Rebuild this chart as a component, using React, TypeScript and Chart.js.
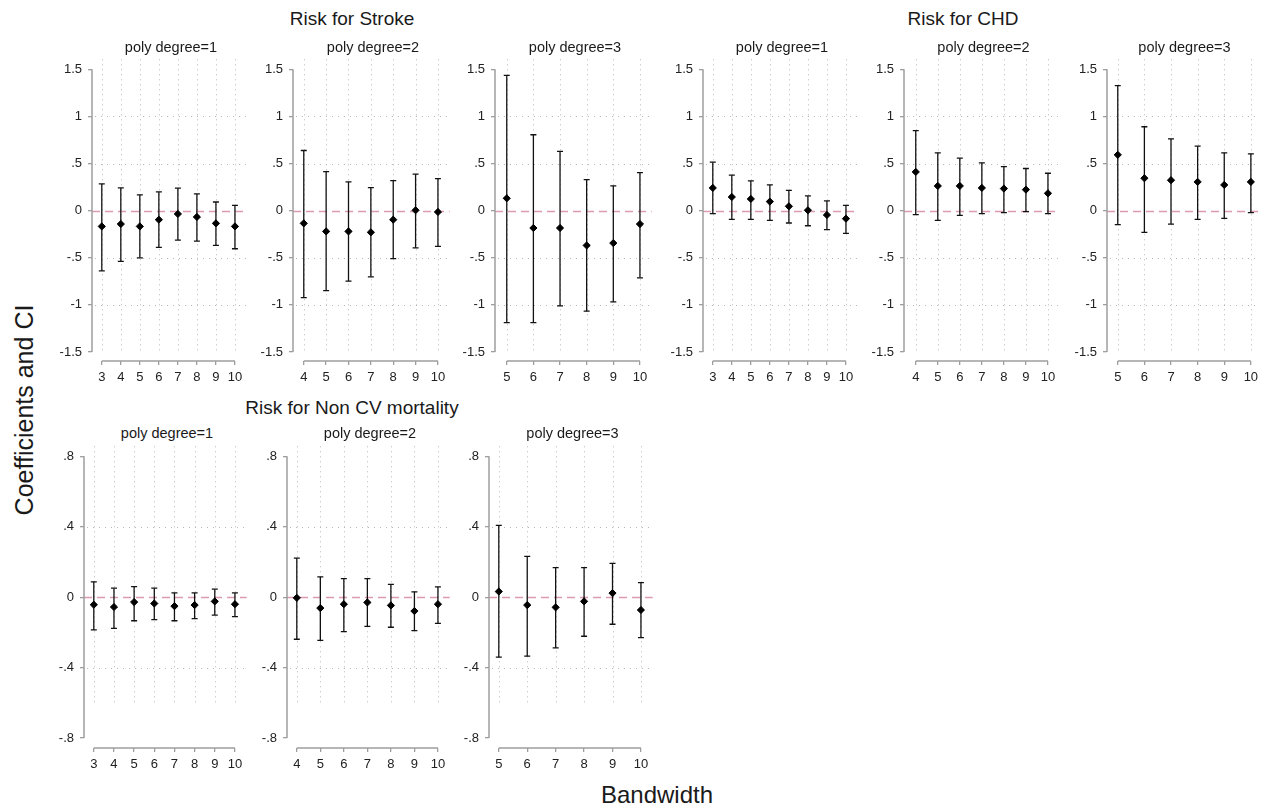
import React, { useEffect, useRef } from "react";
import { Chart, registerables } from "chart.js";

Chart.register(...registerables);

// Bandwidths used for each polynomial degree
const bwDeg1 = [3, 4, 5, 6, 7, 8, 9, 10];
const bwDeg2 = [4, 5, 6, 7, 8, 9, 10];
const bwDeg3 = [5, 6, 7, 8, 9, 10];

// Risk for Stroke
const strokeD1Est = [-0.167, -0.142, -0.167, -0.096, -0.035, -0.067, -0.135, -0.167];
const strokeD1Lo = [-0.638, -0.539, -0.5, -0.39, -0.312, -0.323, -0.369, -0.404];
const strokeD1Hi = [0.284, 0.241, 0.167, 0.199, 0.238, 0.177, 0.092, 0.057];

const strokeD2Est = [-0.135, -0.22, -0.22, -0.23, -0.096, 0.004, -0.014];
const strokeD2Lo = [-0.922, -0.848, -0.748, -0.702, -0.51, -0.394, -0.38];
const strokeD2Hi = [0.638, 0.415, 0.305, 0.245, 0.319, 0.387, 0.34];

const strokeD3Est = [0.131, -0.184, -0.184, -0.369, -0.344, -0.142];
const strokeD3Lo = [-1.188, -1.188, -1.011, -1.067, -0.968, -0.713];
const strokeD3Hi = [1.436, 0.805, 0.628, 0.33, 0.262, 0.404];

// Risk for CHD
const chdD1Est = [0.241, 0.145, 0.124, 0.096, 0.046, 0.004, -0.046, -0.085];
const chdD1Lo = [-0.032, -0.092, -0.092, -0.103, -0.131, -0.16, -0.202, -0.241];
const chdD1Hi = [0.514, 0.376, 0.316, 0.273, 0.216, 0.156, 0.103, 0.057];

const chdD2Est = [0.411, 0.262, 0.262, 0.241, 0.234, 0.223, 0.184];
const chdD2Lo = [-0.043, -0.103, -0.05, -0.032, -0.021, -0.011, -0.032];
const chdD2Hi = [0.848, 0.613, 0.557, 0.507, 0.468, 0.447, 0.397];

const chdD3Est = [0.592, 0.344, 0.323, 0.305, 0.273, 0.305];
const chdD3Lo = [-0.149, -0.23, -0.142, -0.092, -0.082, -0.021];
const chdD3Hi = [1.326, 0.89, 0.762, 0.684, 0.613, 0.603];

// Risk for Non CV mortality
const noncvD1Est = [-0.043, -0.056, -0.028, -0.036, -0.051, -0.045, -0.024, -0.04];
const noncvD1Lo = [-0.186, -0.177, -0.134, -0.128, -0.134, -0.122, -0.102, -0.111];
const noncvD1Hi = [0.087, 0.051, 0.06, 0.051, 0.024, 0.024, 0.045, 0.024];

const noncvD2Est = [-0.004, -0.062, -0.04, -0.03, -0.047, -0.079, -0.04];
const noncvD2Lo = [-0.239, -0.245, -0.196, -0.166, -0.171, -0.19, -0.149];
const noncvD2Hi = [0.222, 0.115, 0.105, 0.105, 0.072, 0.03, 0.058];

const noncvD3Est = [0.032, -0.045, -0.058, -0.024, 0.023, -0.073];
const noncvD3Lo = [-0.341, -0.335, -0.288, -0.222, -0.154, -0.23];
const noncvD3Hi = [0.407, 0.232, 0.168, 0.168, 0.192, 0.083];

// Y axis ticks
const cvTicks = [-1.5, -1, -0.5, 0, 0.5, 1, 1.5];
const cvTickLabels = ["-1.5", "-1", "-.5", "0", ".5", "1", "1.5"];
const mortTicks = [-0.8, -0.4, 0, 0.4, 0.8];
const mortTickLabels = ["-.8", "-.4", "0", ".4", ".8"];

const FONT = '"Liberation Sans", Arial, Helvetica, sans-serif';
const LEFT_M = 50;
const BOTTOM_M = 30;
const TOP_PAD = 4;
const RIGHT_PAD = 2;

// Row geometry (pixels on the page)
const topRow = { gridTop: 58, tickTopPx: 68, tickBotPx: 352, axisY: 361, titleY: 47, vGridBottom: -1.52 };
const botRow = { gridTop: 445, tickTopPx: 455, tickBotPx: 738, axisY: 748, titleY: 433, vGridBottom: -0.6 };

type PanelSpec = {
  title: string;
  bw: number[];
  est: number[];
  lo: number[];
  hi: number[];
  ticks: number[];
  tickLabels: string[];
  row: typeof topRow;
  axisX: number;
  firstX: number;
  lastX: number;
};

const panels: PanelSpec[] = [
  { title: "poly degree=1", bw: bwDeg1, est: strokeD1Est, lo: strokeD1Lo, hi: strokeD1Hi, ticks: cvTicks, tickLabels: cvTickLabels, row: topRow, axisX: 92, firstX: 102, lastX: 238 },
  { title: "poly degree=2", bw: bwDeg2, est: strokeD2Est, lo: strokeD2Lo, hi: strokeD2Hi, ticks: cvTicks, tickLabels: cvTickLabels, row: topRow, axisX: 293, firstX: 304, lastX: 441 },
  { title: "poly degree=3", bw: bwDeg3, est: strokeD3Est, lo: strokeD3Lo, hi: strokeD3Hi, ticks: cvTicks, tickLabels: cvTickLabels, row: topRow, axisX: 495, firstX: 507, lastX: 643 },
  { title: "poly degree=1", bw: bwDeg1, est: chdD1Est, lo: chdD1Lo, hi: chdD1Hi, ticks: cvTicks, tickLabels: cvTickLabels, row: topRow, axisX: 703, firstX: 713, lastX: 849 },
  { title: "poly degree=2", bw: bwDeg2, est: chdD2Est, lo: chdD2Lo, hi: chdD2Hi, ticks: cvTicks, tickLabels: cvTickLabels, row: topRow, axisX: 904, firstX: 916, lastX: 1051 },
  { title: "poly degree=3", bw: bwDeg3, est: chdD3Est, lo: chdD3Lo, hi: chdD3Hi, ticks: cvTicks, tickLabels: cvTickLabels, row: topRow, axisX: 1107, firstX: 1118, lastX: 1254 },
  { title: "poly degree=1", bw: bwDeg1, est: noncvD1Est, lo: noncvD1Lo, hi: noncvD1Hi, ticks: mortTicks, tickLabels: mortTickLabels, row: botRow, axisX: 84, firstX: 94, lastX: 238 },
  { title: "poly degree=2", bw: bwDeg2, est: noncvD2Est, lo: noncvD2Lo, hi: noncvD2Hi, ticks: mortTicks, tickLabels: mortTickLabels, row: botRow, axisX: 287, firstX: 297, lastX: 441 },
  { title: "poly degree=3", bw: bwDeg3, est: noncvD3Est, lo: noncvD3Lo, hi: noncvD3Hi, ticks: mortTicks, tickLabels: mortTickLabels, row: botRow, axisX: 489, firstX: 499, lastX: 644 },
];

// Grid, zero reference line and offset axis lines
const framePlugin = {
  id: "stataFrame",
  beforeDatasetsDraw(chart: any, _args: any, opts: any) {
    const { ctx, chartArea: a } = chart;
    const x = chart.scales.x;
    const y = chart.scales.y;
    const xVals: number[] = opts.xVals;
    const yTicks: number[] = opts.yTicks;
    const yMin = Math.min(...yTicks);
    const yMax = Math.max(...yTicks);
    ctx.save();

    // vertical dotted grid
    ctx.strokeStyle = "#b8b8b8";
    ctx.lineWidth = 1;
    ctx.setLineDash([1, 4]);
    const vb = y.getPixelForValue(opts.vGridBottom);
    xVals.forEach((v) => {
      const px = Math.round(x.getPixelForValue(v)) + 0.5;
      ctx.beginPath();
      ctx.moveTo(px, a.top);
      ctx.lineTo(px, vb);
      ctx.stroke();
    });

    // horizontal dotted grid
    ctx.setLineDash([1, 5]);
    yTicks.forEach((t) => {
      if (t === 0 || t === yMin || t === yMax) return;
      const py = Math.round(y.getPixelForValue(t)) + 0.5;
      ctx.beginPath();
      ctx.moveTo(a.left + 3, py);
      ctx.lineTo(a.right, py);
      ctx.stroke();
    });

    // zero reference line
    ctx.strokeStyle = "#dc9bb3";
    ctx.lineWidth = 1.3;
    ctx.setLineDash([8, 5]);
    const y0 = Math.round(y.getPixelForValue(0)) + 0.5;
    ctx.beginPath();
    ctx.moveTo(a.left, y0);
    ctx.lineTo(a.right, y0);
    ctx.stroke();

    // axis lines spanning the tick range
    ctx.setLineDash([]);
    ctx.strokeStyle = "#9e9e9e";
    ctx.lineWidth = 1.5;
    ctx.beginPath();
    ctx.moveTo(a.left, y.getPixelForValue(yMax));
    ctx.lineTo(a.left, y.getPixelForValue(yMin));
    ctx.stroke();
    ctx.beginPath();
    ctx.moveTo(x.getPixelForValue(xVals[0]), a.bottom);
    ctx.lineTo(x.getPixelForValue(xVals[xVals.length - 1]), a.bottom);
    ctx.stroke();
    ctx.restore();
  },
};

function Panel({ spec }: { spec: PanelSpec }) {
  const ref = useRef<HTMLCanvasElement | null>(null);
  const { row, axisX, firstX, lastX, bw, ticks } = spec;
  const right = Math.min(lastX + 12, 1262);
  const canvasLeft = axisX - LEFT_M;
  const canvasTop = row.gridTop - TOP_PAD;
  const width = right - axisX + LEFT_M + RIGHT_PAD;
  const height = row.axisY - row.gridTop + TOP_PAD + BOTTOM_M;

  useEffect(() => {
    if (!ref.current) return;
    const first = bw[0];
    const last = bw[bw.length - 1];
    const pxPerX = (lastX - firstX) / (last - first);
    const xMin = first - (firstX - axisX) / pxPerX;
    const xMax = last + (right - lastX) / pxPerX;
    const tTop = Math.max(...ticks);
    const tBot = Math.min(...ticks);
    const pxPerY = (row.tickBotPx - row.tickTopPx) / (tTop - tBot);
    const yMax = tTop + (row.tickTopPx - row.gridTop) / pxPerY;
    const yMin = tBot - (row.axisY - row.tickBotPx) / pxPerY;

    const whiskers: any[] = [];
    bw.forEach((b, i) => {
      whiskers.push({ x: b, y: spec.lo[i] });
      whiskers.push({ x: b, y: spec.hi[i] });
      whiskers.push({ x: b, y: null });
    });
    const points = bw.map((b, i) => ({ x: b, y: spec.est[i] }));

    const labelFor = (v: number) => {
      const idx = ticks.findIndex((t) => Math.abs(t - v) < 1e-9);
      return idx >= 0 ? spec.tickLabels[idx] : "";
    };

    const chart = new Chart(ref.current, {
      type: "scatter",
      data: {
        datasets: [
          {
            data: points,
            pointStyle: "rectRot",
            pointRadius: 3.6,
            pointBackgroundColor: "#000",
            pointBorderColor: "#000",
            pointBorderWidth: 1,
          },
          {
            type: "line",
            data: whiskers,
            showLine: true,
            spanGaps: false,
            borderColor: "#111",
            borderWidth: 1.3,
            pointStyle: "line",
            pointRadius: (c: any) => (c.raw && c.raw.y != null ? 3 : 0),
            pointBorderColor: "#111",
            pointBorderWidth: 1.3,
            fill: false,
          } as any,
        ],
      },
      options: {
        responsive: false,
        animation: false,
        devicePixelRatio: 1,
        events: [],
        layout: { padding: { left: 0, right: RIGHT_PAD, top: TOP_PAD, bottom: 0 } },
        plugins: {
          legend: { display: false },
          tooltip: { enabled: false },
          stataFrame: { xVals: bw, yTicks: ticks, vGridBottom: row.vGridBottom },
        } as any,
        scales: {
          x: {
            type: "linear",
            min: xMin,
            max: xMax,
            afterBuildTicks: (s: any) => {
              s.ticks = bw.map((v) => ({ value: v }));
            },
            afterFit: (s: any) => {
              s.height = BOTTOM_M;
              s.paddingLeft = 0;
              s.paddingRight = 0;
              s.paddingTop = 0;
              s.paddingBottom = 0;
            },
            border: { display: false },
            grid: { drawOnChartArea: false, drawTicks: true, tickLength: 4, color: "#9e9e9e", lineWidth: 1.3 },
            ticks: {
              autoSkip: false,
              maxRotation: 0,
              padding: 5,
              color: "#222",
              font: { family: FONT, size: 13 },
              callback: (v: any) => String(v),
            },
          },
          y: {
            type: "linear",
            min: yMin,
            max: yMax,
            afterBuildTicks: (s: any) => {
              s.ticks = ticks.map((v) => ({ value: v }));
            },
            afterFit: (s: any) => {
              s.width = LEFT_M;
              s.paddingTop = 0;
              s.paddingBottom = 0;
              s.paddingLeft = 0;
              s.paddingRight = 0;
            },
            border: { display: false },
            grid: { drawOnChartArea: false, drawTicks: true, tickLength: 4, color: "#9e9e9e", lineWidth: 1.3 },
            ticks: {
              autoSkip: false,
              padding: 6,
              color: "#222",
              font: { family: FONT, size: 13 },
              callback: (v: any) => labelFor(Number(v)),
            },
          },
        },
      },
      plugins: [framePlugin as any],
    });
    return () => chart.destroy();
  }, []);

  const titleCx = (axisX + right) / 2;
  return (
    <>
      <canvas
        ref={ref}
        width={width}
        height={height}
        style={{ position: "absolute", left: canvasLeft, top: canvasTop, width, height }}
      />
      <div style={centered(titleCx, row.titleY, 14.5)}>{spec.title}</div>
    </>
  );
}

function centered(cx: number, cy: number, size: number): React.CSSProperties {
  return {
    position: "absolute",
    left: cx,
    top: cy,
    transform: "translate(-50%, -50%)",
    whiteSpace: "nowrap",
    fontFamily: FONT,
    fontSize: size,
    lineHeight: 1,
    color: "#1a1a1a",
  };
}

export default function App() {
  return (
    <div
      style={{
        position: "absolute",
        left: 0,
        top: 0,
        width: 1264,
        height: 807,
        background: "#fff",
        overflow: "hidden",
      }}
    >
      <div style={centered(352, 18, 19)}>Risk for Stroke</div>
      <div style={centered(963, 18, 19)}>Risk for CHD</div>
      <div style={centered(352, 407, 19)}>Risk for Non CV mortality</div>
      <div style={{ ...centered(24, 410, 25), transform: "translate(-50%, -50%) rotate(-90deg)" }}>
        Coefficients and CI
      </div>
      <div style={centered(657, 795, 24)}>Bandwidth</div>
      {panels.map((p, i) => (
        <Panel key={i} spec={p} />
      ))}
    </div>
  );
}
